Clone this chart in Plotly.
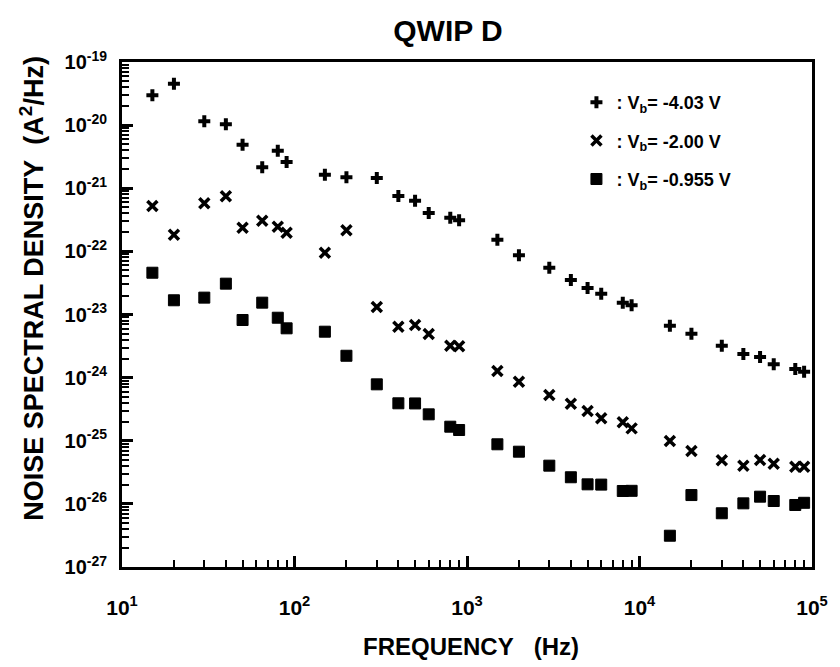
import plotly.graph_objects as go

# Frequency grid (Hz), shared by all three bias voltages
freq = [15, 20, 30, 40, 50, 65, 80, 90,
        150, 200, 300, 400, 500, 600, 800, 900,
        1500, 2000, 3000, 4000, 5000, 6000, 8000, 9000,
        15000, 20000, 30000, 40000, 50000, 60000, 80000, 90000]

# Noise spectral density (A^2/Hz)
s_m403 = [2.97e-20, 4.53e-20, 1.15e-20, 1.03e-20, 4.90e-21, 2.15e-21, 3.94e-21, 2.61e-21,
          1.64e-21, 1.49e-21, 1.45e-21, 7.53e-22, 6.35e-22, 4.06e-22, 3.41e-22, 3.10e-22,
          1.53e-22, 8.67e-23, 5.51e-23, 3.52e-23, 2.63e-23, 2.13e-23, 1.54e-23, 1.40e-23,
          6.64e-24, 4.97e-24, 3.21e-24, 2.37e-24, 2.12e-24, 1.63e-24, 1.37e-24, 1.24e-24]

s_m200 = [5.24e-22, 1.84e-22, 5.78e-22, 7.45e-22, 2.37e-22, 3.06e-22, 2.46e-22, 1.98e-22,
          9.53e-23, 2.16e-22, 1.31e-23, 6.41e-24, 6.82e-24, 4.91e-24, 3.21e-24, 3.15e-24,
          1.27e-24, 8.61e-25, 5.31e-25, 3.86e-25, 2.96e-25, 2.27e-25, 1.96e-25, 1.57e-25,
          9.91e-26, 6.88e-26, 4.90e-26, 4.03e-26, 4.95e-26, 4.33e-26, 3.88e-26, 3.88e-26]

s_m0955 = [4.59e-23, 1.68e-23, 1.85e-23, 3.08e-23, 8.18e-24, 1.54e-23, 8.89e-24, 6.04e-24,
           5.34e-24, 2.22e-24, 7.83e-25, 3.92e-25, 3.90e-25, 2.62e-25, 1.67e-25, 1.48e-25,
           8.79e-26, 6.71e-26, 4.03e-26, 2.64e-26, 2.04e-26, 2.02e-26, 1.60e-26, 1.61e-26,
           3.13e-27, 1.38e-26, 7.10e-27, 1.02e-26, 1.30e-26, 1.11e-26, 9.60e-27, 1.04e-26]

series_names = [": V<sub>b</sub>= -4.03 V", ": V<sub>b</sub>= -2.00 V", ": V<sub>b</sub>= -0.955 V"]

x_exponents = [1, 2, 3, 4, 5]
x_tickvals = [10.0 ** e for e in x_exponents]
x_ticktext = ["10<sup>%d</sup>" % e for e in x_exponents]
y_exponents = [-19, -20, -21, -22, -23, -24, -25, -26, -27]
y_tickvals = [10.0 ** e for e in y_exponents]
y_ticktext = ["10<sup>%d</sup>" % e for e in y_exponents]
x_minor = [m * 10.0 ** e for e in range(1, 5) for m in range(2, 10)]
y_minor = [m * 10.0 ** e for e in range(-27, -19) for m in range(2, 10)]

FONT = "Liberation Sans, Arial, Helvetica, sans-serif"

fig = go.Figure()
fig.add_trace(go.Scatter(x=freq, y=s_m403, mode="markers", name=series_names[0],
                         legendgroup="a",
                         marker=dict(symbol="cross", size=10, color="black")))
fig.add_trace(go.Scatter(x=freq, y=s_m200, mode="markers", name=series_names[1],
                         legendgroup="b",
                         marker=dict(symbol="x-thin", size=10, color="black",
                                     line=dict(width=3.5, color="black"))))
fig.add_trace(go.Scatter(x=freq, y=s_m0955, mode="markers", name=series_names[2],
                         legendgroup="c",
                         marker=dict(symbol="square", size=11, color="black",
                                     line=dict(width=1, color="black"))))

axis_common = dict(
    type="log", showgrid=False, zeroline=False,
    showline=True, linecolor="black", linewidth=3, mirror=True,
    ticks="inside", tickcolor="black", tickwidth=2.5, ticklen=11,
    tickmode="array",
)

fig.update_xaxes(range=[1, 5], tickvals=x_tickvals, ticktext=x_ticktext,
                 tickfont=dict(family=FONT, size=21, color="black", weight="bold"),
                 ticklabelstandoff=20,
                 minor=dict(tickmode="array", tickvals=x_minor, ticks="inside", ticklen=7,
                            tickwidth=2, tickcolor="black", showgrid=False),
                 **axis_common)
fig.update_yaxes(range=[-27, -19], tickvals=y_tickvals, ticktext=y_ticktext,
                 tickfont=dict(family=FONT, size=20, color="black", weight="bold"),
                 ticklabelstandoff=8,
                 minor=dict(tickmode="array", tickvals=y_minor, ticks="inside", ticklen=7,
                            tickwidth=2, tickcolor="black", showgrid=False),
                 **axis_common)

fig.update_layout(
    width=840, height=667,
    margin=dict(l=122, r=16, t=62, b=100),
    paper_bgcolor="white", plot_bgcolor="white",
    font=dict(family=FONT, color="black"),
    title=dict(text="QWIP D", x=448 / 840, xanchor="center", xref="container",
               y=1 - 30 / 667, yanchor="middle", yref="container",
               font=dict(family=FONT, size=30, color="black", weight="bold")),
    showlegend=True,
    legend=dict(x=(585 - 122) / 703, xanchor="left", y=1 - (84 - 62) / 505, yanchor="top",
                bgcolor="rgba(0,0,0,0)", borderwidth=0,
                font=dict(family=FONT, size=18, color="black", weight="bold"),
                traceorder="grouped", tracegroupgap=12, itemwidth=30),
    annotations=[
        dict(text="NOISE SPECTRAL DENSITY\u00a0\u00a0(A<sup>2</sup>/Hz)", textangle=-90,
             xref="paper", yref="paper", x=(30 - 122) / 703, y=(567 - 288) / 505,
             xanchor="center", yanchor="middle", showarrow=False,
             font=dict(family=FONT, size=27, color="black", weight="bold")),
        dict(text="FREQUENCY\u00a0\u00a0\u00a0(Hz)",
             xref="paper", yref="paper", x=(478 - 122) / 703, y=(567 - 646) / 505,
             xanchor="center", yanchor="middle", showarrow=False,
             font=dict(family=FONT, size=24, color="black", weight="bold")),
    ],
)

fig.write_html("out.html")
